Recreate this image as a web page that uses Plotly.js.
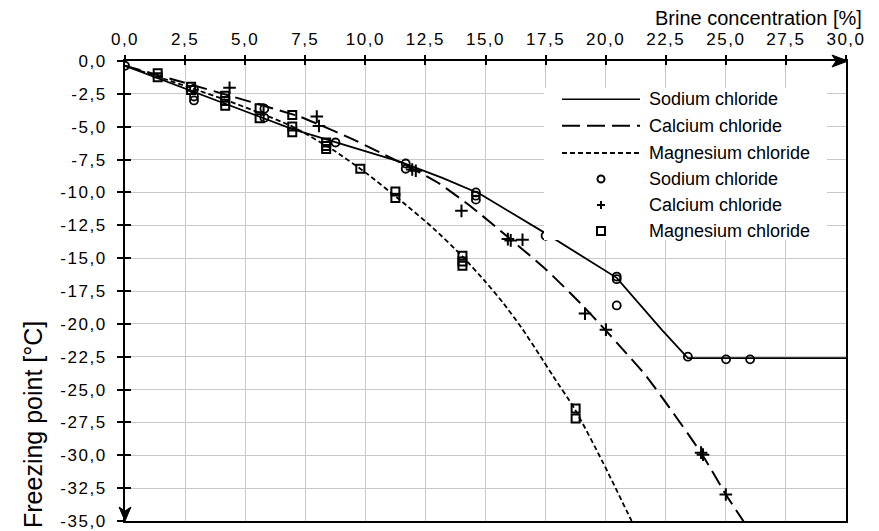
<!DOCTYPE html>
<html>
<head>
<meta charset="utf-8">
<script src="https://cdn.plot.ly/plotly-3.0.1.min.js"></script>
<style>
html,body{margin:0;padding:0;background:#fff;}
#chart{width:879px;height:531px;}
#chart .xtick text, #chart .ytick text { letter-spacing: 1.5px; }
</style>
</head>
<body>
<div id="chart"></div>
<script>
// ---- tick values and labels ----
var xTicks = [0, 2.5, 5, 7.5, 10, 12.5, 15, 17.5, 20, 22.5, 25, 27.5, 30];
var xTickLabels = ["0,0","2,5","5,0","7,5","10,0","12,5","15,0","17,5","20,0","22,5","25,0","27,5","30,0"];
var yTicks = [0, -2.5, -5, -7.5, -10, -12.5, -15, -17.5, -20, -22.5, -25, -27.5, -30, -32.5, -35];
var yTickLabels = ["0,0","-2,5","-5,0","-7,5","-10,0","-12,5","-15,0","-17,5","-20,0","-22,5","-25,0","-27,5","-30,0","-32,5","-35,0"];

var seriesNames = ["Sodium chloride", "Calcium chloride", "Magnesium chloride"];

// ---- fitted curves ----
var naLineX = [0, 6.97, 11.43, 13.23, 14.76, 17.4, 20.46, 22.33, 23.42, 30];
var naLineY = [-0.36, -5.19, -7.65, -8.91, -10.1, -13.0, -16.5, -20.44, -22.6, -22.6];

var caLineX = [0, 4.48, 7.26, 8.1, 9.35, 10.6, 12.05, 13.1, 14.48, 16.0, 17.54, 18.93, 20.04, 20.6, 21.7, 24.0, 25.0, 25.8];
var caLineY = [-0.36, -2.71, -4.23, -4.86, -5.85, -6.95, -8.28, -9.35, -11.2, -13.5, -15.9, -18.4, -20.57, -21.71, -24.0, -29.9, -32.98, -35.2];

var mgLineX = [0, 2.75, 4.17, 5.6, 6.98, 8.65, 10.04, 11.43, 12.82, 14.04, 15.0, 15.73, 16.5, 17.26, 17.82, 18.72, 19.9, 21.08];
var mgLineY = [-0.36, -2.05, -2.95, -3.95, -5.0, -6.76, -8.53, -10.56, -12.71, -14.87, -16.8, -18.4, -20.3, -22.4, -24.0, -26.5, -30.6, -35.0];

// ---- measured points ----
var naPtsX = [0, 2.87, 2.87, 2.87, 5.8, 5.8, 8.76, 11.68, 11.68, 14.6, 14.6, 14.6, 17.5, 20.46, 20.46, 20.46, 23.42, 25.01, 26.01];
var naPtsY = [-0.36, -2.15, -2.7, -3.0, -3.63, -4.32, -6.2, -7.8, -8.2, -10.0, -10.25, -10.55, -13.3, -16.4, -16.6, -18.6, -22.5, -22.7, -22.7];

var caPtsX = [4.35, 7.98, 8.07, 11.95, 12.1, 14.0, 15.93, 16.05, 16.54, 19.14, 20.01, 23.97, 24.05, 25.0];
var caPtsY = [-2.03, -4.23, -4.94, -8.25, -8.35, -11.4, -13.55, -13.65, -13.6, -19.22, -20.44, -29.8, -29.95, -32.98];

var mgPtsX = [1.36, 1.36, 2.75, 2.75, 4.17, 4.17, 4.17, 5.6, 5.6, 6.96, 6.96, 6.96, 8.37, 8.37, 8.37, 9.79, 11.25, 11.25, 14.04, 14.04, 14.04, 18.75, 18.75];
var mgPtsY = [-0.93, -1.24, -1.95, -2.2, -2.65, -3.05, -3.4, -3.6, -4.36, -4.1, -4.99, -5.42, -6.2, -6.46, -6.7, -8.2, -9.93, -10.43, -14.82, -15.25, -15.58, -26.44, -27.2];

// ---- geometry helpers (plot area in pixels) ----
var L = 125, R = 846, T = 61, B = 521;
function PX(px){ return (px - L) / (R - L); }
function PY(py){ return (B - py) / (B - T); }

var FONT = "Liberation Sans, Arial, sans-serif";

var traces = [
  {x: naLineX, y: naLineY, mode: "lines", line: {color: "black", width: 1.8}, showlegend: false, hoverinfo: "skip"},
  {x: caLineX, y: caLineY, mode: "lines", line: {color: "black", width: 2, dash: "16px,7px", shape: "spline", smoothing: 0.6}, showlegend: false, hoverinfo: "skip"},
  {x: mgLineX, y: mgLineY, mode: "lines", line: {color: "black", width: 1.8, dash: "5px,3px", shape: "spline", smoothing: 0.6}, showlegend: false, hoverinfo: "skip"},
  {x: naPtsX, y: naPtsY, mode: "markers", marker: {symbol: "circle-open", size: 8, color: "black", line: {width: 1.8, color: "black"}}, showlegend: false},
  {x: caPtsX, y: caPtsY, mode: "markers", marker: {symbol: "cross-thin-open", size: 9, color: "black", line: {width: 2, color: "black"}}, showlegend: false},
  {x: mgPtsX, y: mgPtsY, mode: "markers", marker: {symbol: "square-open", size: 8, color: "black", line: {width: 2, color: "black"}}, showlegend: false},
  {x: [], y: [], xaxis: "x2", yaxis: "y2", mode: "markers", showlegend: false, hoverinfo: "skip"}
];

// legend layout
var legRows = [99.3, 125.7, 153, 179, 205, 231];
var legMarkX = 601;
var legTexts = seriesNames.concat(seriesNames);
var shapes = [
  {type: "rect", xref: "paper", yref: "paper", x0: PX(544), x1: PX(827), y0: PY(240), y1: PY(88), fillcolor: "white", line: {width: 0}, layer: "above"},
  {type: "line", xref: "paper", yref: "paper", x0: PX(562), x1: PX(640), y0: PY(legRows[0]), y1: PY(legRows[0]), line: {color: "black", width: 1.6}, layer: "above"},
  {type: "line", xref: "paper", yref: "paper", x0: PX(562), x1: PX(640), y0: PY(legRows[1]), y1: PY(legRows[1]), line: {color: "black", width: 2, dash: "18px,7px"}, layer: "above"},
  {type: "line", xref: "paper", yref: "paper", x0: PX(562), x1: PX(640), y0: PY(legRows[2]), y1: PY(legRows[2]), line: {color: "black", width: 1.8, dash: "5px,3px"}, layer: "above"},
  {type: "circle", xref: "paper", yref: "paper", xsizemode: "pixel", ysizemode: "pixel", xanchor: PX(legMarkX), yanchor: PY(legRows[3]), x0: -3.5, x1: 3.5, y0: -3.5, y1: 3.5, line: {color: "black", width: 2}, layer: "above"},
  {type: "line", xref: "paper", yref: "paper", xsizemode: "pixel", ysizemode: "pixel", xanchor: PX(legMarkX), yanchor: PY(legRows[4]), x0: -4, x1: 4, y0: 0, y1: 0, line: {color: "black", width: 2}, layer: "above"},
  {type: "line", xref: "paper", yref: "paper", xsizemode: "pixel", ysizemode: "pixel", xanchor: PX(legMarkX), yanchor: PY(legRows[4]), x0: 0, x1: 0, y0: -4, y1: 4, line: {color: "black", width: 2}, layer: "above"},
  {type: "rect", xref: "paper", yref: "paper", xsizemode: "pixel", ysizemode: "pixel", xanchor: PX(legMarkX), yanchor: PY(legRows[5]), x0: -4, x1: 4, y0: -4, y1: 4, line: {color: "black", width: 2}, layer: "above"},
  // axis arrows
  {type: "path", xref: "paper", yref: "paper", xsizemode: "pixel", ysizemode: "pixel", xanchor: 1, yanchor: 1, path: "M2,0 L-14,6 L-10,0 L-14,-6 Z", fillcolor: "black", line: {color: "black", width: 1}, layer: "above"},
  {type: "path", xref: "paper", yref: "paper", xsizemode: "pixel", ysizemode: "pixel", xanchor: 0, yanchor: 0, path: "M0,0 L-6,14 L0,10 L6,14 Z", fillcolor: "black", line: {color: "black", width: 1}, layer: "above"}
];

var annotations = [];
for (var i = 0; i < legTexts.length; i++) {
  annotations.push({xref: "paper", yref: "paper", x: PX(647), y: PY(legRows[i]), xanchor: "left", yanchor: "middle", text: legTexts[i], showarrow: false, font: {family: FONT, size: 18, color: "black"}});
}
annotations.push({xref: "paper", yref: "paper", x: PX(864), y: PY(18), xanchor: "right", yanchor: "middle", text: "Brine concentration [%]", showarrow: false, font: {family: FONT, size: 20, color: "black"}});
annotations.push({xref: "paper", yref: "paper", x: PX(33), y: PY(425), xanchor: "center", yanchor: "middle", textangle: -90, text: "Freezing point [°C]", showarrow: false, font: {family: FONT, size: 25, color: "black"}});

var tickFont = {family: FONT, size: 17, color: "black"};
var layout = {
  width: 879, height: 531,
  margin: {l: L, r: 879 - R, t: T, b: 531 - B, pad: 0},
  paper_bgcolor: "white", plot_bgcolor: "white",
  showlegend: false,
  xaxis: {range: [0, 30], side: "top", tickmode: "array", tickvals: xTicks, ticktext: xTickLabels,
    showgrid: true, gridcolor: "#c8c8c8", gridwidth: 1, zeroline: false,
    showline: true, linecolor: "black", linewidth: 2, mirror: true,
    ticks: "outside", ticklen: 4, tickwidth: 2, tickcolor: "black", tickfont: tickFont, ticklabelstandoff: 3,
    ticklabeloverflow: "allow", fixedrange: true},
  yaxis: {range: [-35, 0], tickmode: "array", tickvals: yTicks, ticktext: yTickLabels,
    showgrid: true, gridcolor: "#c8c8c8", gridwidth: 1, zeroline: false,
    showline: true, linecolor: "black", linewidth: 2, mirror: true,
    ticks: "outside", ticklen: 6, tickwidth: 2, tickcolor: "black", tickfont: tickFont, ticklabelstandoff: 7,
    ticklabeloverflow: "allow", fixedrange: true},
  xaxis2: {overlaying: "x", anchor: "y", side: "top", range: [0, 30], tickmode: "array", tickvals: xTicks,
    ticks: "inside", ticklen: 4, tickwidth: 2, tickcolor: "black", showticklabels: false, showgrid: false, zeroline: false, showline: false, fixedrange: true},
  yaxis2: {overlaying: "y", anchor: "x", side: "left", range: [-35, 0], tickmode: "array", tickvals: yTicks,
    ticks: "inside", ticklen: 6, tickwidth: 2, tickcolor: "black", showticklabels: false, showgrid: false, zeroline: false, showline: false, fixedrange: true},
  shapes: shapes,
  annotations: annotations
};

Plotly.newPlot("chart", traces, layout, {displayModeBar: false, staticPlot: true});
</script>
</body>
</html>
